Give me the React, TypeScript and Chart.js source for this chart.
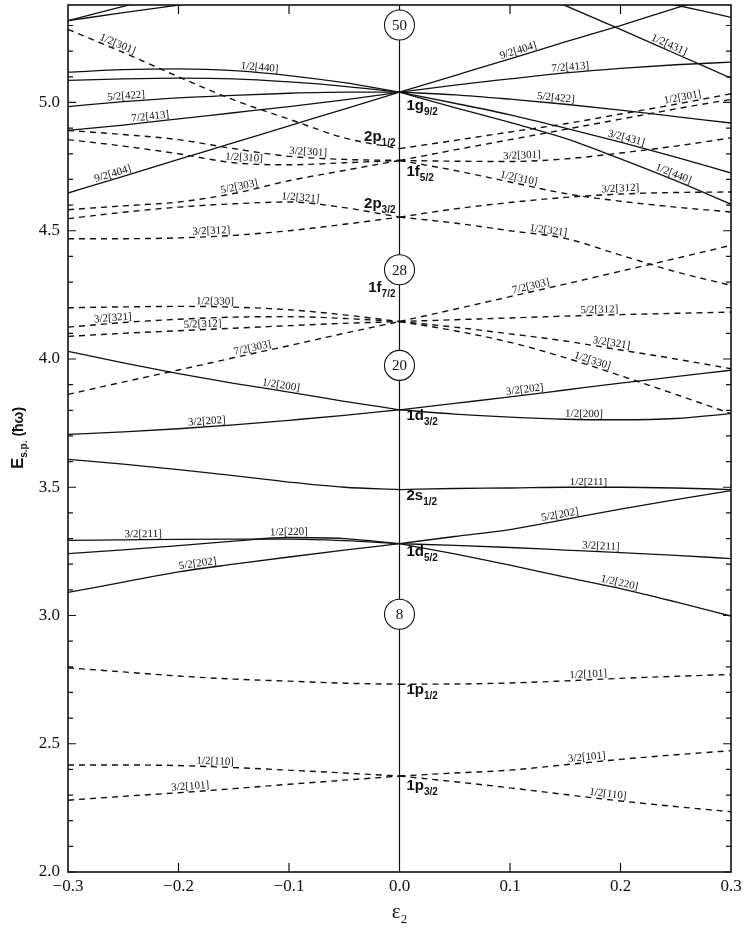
import React, { useEffect, useRef } from 'react';
import { Chart, registerables } from 'chart.js';

Chart.register(...registerables);

// ---------- deformation grids ----------
const EPS_OBL = [-0.3, -0.25, -0.2, -0.15, -0.1, -0.05, 0];
const EPS_PRO = [0, 0.05, 0.1, 0.15, 0.2, 0.25, 0.3];
const EPS_431 = [0.1, 0.15, 0.2, 0.25, 0.3];
const EPS_TOP_R = [0.2, 0.25, 0.3];
const EPS_TOP_L1 = [-0.3, -0.25, -0.2];
const EPS_TOP_L2 = [-0.3, -0.25, -0.2, -0.15];

// ---------- N = 1 (dashed) ----------
const h101_obl = [2.796, 2.78, 2.764, 2.752, 2.744, 2.736, 2.732];
const h101_pro = [2.732, 2.733, 2.737, 2.745, 2.755, 2.763, 2.77];
const h110_obl = [2.417, 2.417, 2.415, 2.407, 2.397, 2.386, 2.374];
const h110_pro = [2.374, 2.352, 2.328, 2.302, 2.277, 2.255, 2.235];
const t101_obl = [2.28, 2.295, 2.309, 2.325, 2.342, 2.358, 2.374];
const t101_pro = [2.374, 2.386, 2.397, 2.418, 2.439, 2.457, 2.473];

// ---------- N = 2 (solid) ----------
const f202_obl = [3.09, 3.13, 3.17, 3.2, 3.228, 3.255, 3.28];
const f202_pro = [3.28, 3.308, 3.335, 3.375, 3.415, 3.452, 3.487];
const t211_obl = [3.293, 3.295, 3.297, 3.298, 3.298, 3.292, 3.28];
const t211_pro = [3.28, 3.273, 3.265, 3.255, 3.245, 3.234, 3.222];
const h220_obl = [3.241, 3.256, 3.272, 3.29, 3.304, 3.3, 3.28];
const h220_pro = [3.28, 3.24, 3.196, 3.15, 3.105, 3.053, 2.998];
const s2_obl = [3.609, 3.59, 3.569, 3.545, 3.52, 3.5, 3.491];
const h211_pro = [3.491, 3.495, 3.497, 3.5, 3.5, 3.497, 3.491];
const h200_obl = [4.03, 3.985, 3.943, 3.905, 3.871, 3.835, 3.802];
const h200_pro = [3.802, 3.785, 3.773, 3.765, 3.763, 3.768, 3.787];
const t202_obl = [3.706, 3.716, 3.728, 3.743, 3.761, 3.78, 3.802];
const t202_pro = [3.802, 3.827, 3.852, 3.879, 3.906, 3.931, 3.956];

// ---------- N = 3 (dashed) ----------
const h330_obl = [4.2, 4.203, 4.205, 4.202, 4.192, 4.172, 4.146];
const h330_pro = [4.146, 4.11, 4.065, 4.005, 3.935, 3.862, 3.787];
const t321_obl = [4.124, 4.142, 4.155, 4.163, 4.165, 4.158, 4.146];
const t321_pro = [4.146, 4.124, 4.098, 4.07, 4.035, 4.0, 3.962];
const f312_obl = [4.088, 4.1, 4.11, 4.12, 4.13, 4.139, 4.146];
const f312_pro = [4.146, 4.153, 4.16, 4.167, 4.173, 4.178, 4.183];
const s303_obl = [3.862, 3.91, 3.957, 4.005, 4.052, 4.1, 4.146];
const s303_pro = [4.146, 4.194, 4.243, 4.292, 4.342, 4.392, 4.443];
const t312_obl = [4.469, 4.469, 4.472, 4.482, 4.5, 4.525, 4.553];
const t312_pro = [4.553, 4.585, 4.61, 4.63, 4.643, 4.649, 4.651];
const h321_obl = [4.547, 4.572, 4.592, 4.605, 4.612, 4.59, 4.553];
const h321_pro = [4.553, 4.53, 4.5, 4.47, 4.405, 4.34, 4.287];
const f303_obl = [4.582, 4.597, 4.612, 4.645, 4.695, 4.735, 4.774];
const f303_pro = [4.774, 4.815, 4.855, 4.895, 4.935, 4.975, 5.012];
const t301_obl = [4.891, 4.875, 4.855, 4.82, 4.79, 4.778, 4.774];
const t301_pro = [4.774, 4.771, 4.77, 4.78, 4.803, 4.83, 4.862];
const h310_obl = [4.855, 4.83, 4.8, 4.765, 4.757, 4.765, 4.774];
const h310_pro = [4.774, 4.735, 4.69, 4.645, 4.615, 4.592, 4.573];
const h301_obl = [5.285, 5.195, 5.1, 5.01, 4.935, 4.862, 4.82];
const h301_pro = [4.82, 4.852, 4.885, 4.917, 4.955, 4.993, 5.034];

// ---------- N = 4 (solid) ----------
const n404_obl = [4.647, 4.712, 4.778, 4.843, 4.909, 4.974, 5.04];
const n404_pro = [5.04, 5.105, 5.17, 5.236, 5.3, 5.368, 5.433];
const s413_obl = [4.891, 4.912, 4.936, 4.96, 4.984, 5.01, 5.04];
const s413_pro = [5.04, 5.068, 5.092, 5.115, 5.133, 5.147, 5.157];
const f422_obl = [4.984, 5.003, 5.018, 5.028, 5.036, 5.04, 5.04];
const f422_pro = [5.04, 5.03, 5.013, 4.993, 4.97, 4.945, 4.92];
const t431_obl = [5.086, 5.092, 5.095, 5.092, 5.08, 5.063, 5.04];
const t431_pro = [5.04, 4.997, 4.952, 4.9, 4.845, 4.787, 4.725];
const h440_obl = [5.118, 5.128, 5.131, 5.124, 5.105, 5.077, 5.04];
const h440_pro = [5.04, 4.98, 4.922, 4.86, 4.78, 4.695, 4.603];
const h431_pro = [5.47, 5.378, 5.285, 5.19, 5.095];
const top_r = [5.43, 5.38, 5.332];
const top_l1 = [5.319, 5.375, 5.43];
const top_l2 = [5.319, 5.35, 5.38, 5.41];

type Series = { key: string; xs: number[]; ys: number[]; dashed: boolean };

const SERIES: Series[] = [
  { key: 'h101o', xs: EPS_OBL, ys: h101_obl, dashed: true },
  { key: 'h101p', xs: EPS_PRO, ys: h101_pro, dashed: true },
  { key: 'h110o', xs: EPS_OBL, ys: h110_obl, dashed: true },
  { key: 'h110p', xs: EPS_PRO, ys: h110_pro, dashed: true },
  { key: 't101o', xs: EPS_OBL, ys: t101_obl, dashed: true },
  { key: 't101p', xs: EPS_PRO, ys: t101_pro, dashed: true },
  { key: 'f202o', xs: EPS_OBL, ys: f202_obl, dashed: false },
  { key: 'f202p', xs: EPS_PRO, ys: f202_pro, dashed: false },
  { key: 't211o', xs: EPS_OBL, ys: t211_obl, dashed: false },
  { key: 't211p', xs: EPS_PRO, ys: t211_pro, dashed: false },
  { key: 'h220o', xs: EPS_OBL, ys: h220_obl, dashed: false },
  { key: 'h220p', xs: EPS_PRO, ys: h220_pro, dashed: false },
  { key: 's2o', xs: EPS_OBL, ys: s2_obl, dashed: false },
  { key: 'h211p', xs: EPS_PRO, ys: h211_pro, dashed: false },
  { key: 'h200o', xs: EPS_OBL, ys: h200_obl, dashed: false },
  { key: 'h200p', xs: EPS_PRO, ys: h200_pro, dashed: false },
  { key: 't202o', xs: EPS_OBL, ys: t202_obl, dashed: false },
  { key: 't202p', xs: EPS_PRO, ys: t202_pro, dashed: false },
  { key: 'h330o', xs: EPS_OBL, ys: h330_obl, dashed: true },
  { key: 'h330p', xs: EPS_PRO, ys: h330_pro, dashed: true },
  { key: 't321o', xs: EPS_OBL, ys: t321_obl, dashed: true },
  { key: 't321p', xs: EPS_PRO, ys: t321_pro, dashed: true },
  { key: 'f312o', xs: EPS_OBL, ys: f312_obl, dashed: true },
  { key: 'f312p', xs: EPS_PRO, ys: f312_pro, dashed: true },
  { key: 's303o', xs: EPS_OBL, ys: s303_obl, dashed: true },
  { key: 's303p', xs: EPS_PRO, ys: s303_pro, dashed: true },
  { key: 't312o', xs: EPS_OBL, ys: t312_obl, dashed: true },
  { key: 't312p', xs: EPS_PRO, ys: t312_pro, dashed: true },
  { key: 'h321o', xs: EPS_OBL, ys: h321_obl, dashed: true },
  { key: 'h321p', xs: EPS_PRO, ys: h321_pro, dashed: true },
  { key: 'f303o', xs: EPS_OBL, ys: f303_obl, dashed: true },
  { key: 'f303p', xs: EPS_PRO, ys: f303_pro, dashed: true },
  { key: 't301o', xs: EPS_OBL, ys: t301_obl, dashed: true },
  { key: 't301p', xs: EPS_PRO, ys: t301_pro, dashed: true },
  { key: 'h310o', xs: EPS_OBL, ys: h310_obl, dashed: true },
  { key: 'h310p', xs: EPS_PRO, ys: h310_pro, dashed: true },
  { key: 'h301o', xs: EPS_OBL, ys: h301_obl, dashed: true },
  { key: 'h301p', xs: EPS_PRO, ys: h301_pro, dashed: true },
  { key: 'n404o', xs: EPS_OBL, ys: n404_obl, dashed: false },
  { key: 'n404p', xs: EPS_PRO, ys: n404_pro, dashed: false },
  { key: 's413o', xs: EPS_OBL, ys: s413_obl, dashed: false },
  { key: 's413p', xs: EPS_PRO, ys: s413_pro, dashed: false },
  { key: 'f422o', xs: EPS_OBL, ys: f422_obl, dashed: false },
  { key: 'f422p', xs: EPS_PRO, ys: f422_pro, dashed: false },
  { key: 't431o', xs: EPS_OBL, ys: t431_obl, dashed: false },
  { key: 't431p', xs: EPS_PRO, ys: t431_pro, dashed: false },
  { key: 'h440o', xs: EPS_OBL, ys: h440_obl, dashed: false },
  { key: 'h440p', xs: EPS_PRO, ys: h440_pro, dashed: false },
  { key: 'h431p', xs: EPS_431, ys: h431_pro, dashed: false },
  { key: 'topR', xs: EPS_TOP_R, ys: top_r, dashed: false },
  { key: 'topL1', xs: EPS_TOP_L1, ys: top_l1, dashed: false },
  { key: 'topL2', xs: EPS_TOP_L2, ys: top_l2, dashed: false },
];

// orbital labels: [text, series key, epsilon of label centre]
const ORBITAL_LABELS: [string, string, number][] = [
  ['1/2[301]', 'h301o', -0.257],
  ['1/2[440]', 'h440o', -0.127],
  ['5/2[422]', 'f422o', -0.247],
  ['7/2[413]', 's413o', -0.225],
  ['9/2[404]', 'n404o', -0.258],
  ['3/2[301]', 't301o', -0.083],
  ['1/2[310]', 'h310o', -0.141],
  ['5/2[303]', 'f303o', -0.144],
  ['1/2[321]', 'h321o', -0.09],
  ['3/2[312]', 't312o', -0.17],
  ['1/2[330]', 'h330o', -0.167],
  ['3/2[321]', 't321o', -0.259],
  ['5/2[312]', 'f312o', -0.178],
  ['7/2[303]', 's303o', -0.132],
  ['1/2[200]', 'h200o', -0.108],
  ['3/2[202]', 't202o', -0.174],
  ['3/2[211]', 't211o', -0.232],
  ['1/2[220]', 'h220o', -0.1],
  ['5/2[202]', 'f202o', -0.182],
  ['1/2[110]', 'h110o', -0.167],
  ['3/2[101]', 't101o', -0.189],
  ['9/2[404]', 'n404p', 0.109],
  ['7/2[413]', 's413p', 0.155],
  ['5/2[422]', 'f422p', 0.141],
  ['1/2[301]', 'h301p', 0.257],
  ['3/2[431]', 't431p', 0.204],
  ['1/2[440]', 'h440p', 0.246],
  ['3/2[301]', 't301p', 0.111],
  ['1/2[310]', 'h310p', 0.107],
  ['3/2[312]', 't312p', 0.2],
  ['1/2[321]', 'h321p', 0.134],
  ['1/2[431]', 'h431p', 0.242],
  ['7/2[303]', 's303p', 0.12],
  ['5/2[312]', 'f312p', 0.181],
  ['3/2[321]', 't321p', 0.191],
  ['1/2[330]', 'h330p', 0.173],
  ['3/2[202]', 't202p', 0.114],
  ['1/2[200]', 'h200p', 0.167],
  ['1/2[211]', 'h211p', 0.171],
  ['5/2[202]', 'f202p', 0.146],
  ['3/2[211]', 't211p', 0.182],
  ['1/2[220]', 'h220p', 0.198],
  ['1/2[101]', 'h101p', 0.171],
  ['3/2[101]', 't101p', 0.17],
  ['1/2[110]', 'h110p', 0.188],
];

// spherical level labels: [main, subscript, energy, side]
const LEVEL_LABELS: [string, string, number, 'l' | 'r'][] = [
  ['1g', '9/2', 4.992, 'r'],
  ['2p', '1/2', 4.868, 'l'],
  ['1f', '5/2', 4.731, 'r'],
  ['2p', '3/2', 4.607, 'l'],
  ['1f', '7/2', 4.279, 'l'],
  ['1d', '3/2', 3.781, 'r'],
  ['2s', '1/2', 3.469, 'r'],
  ['1d', '5/2', 3.25, 'r'],
  ['1p', '1/2', 2.713, 'r'],
  ['1p', '3/2', 2.339, 'r'],
];

// magic numbers: [number, energy]
const MAGIC: [string, number][] = [
  ['50', 5.302],
  ['28', 4.348],
  ['20', 3.975],
  ['8', 3.005],
];

const SERIF = "'Liberation Serif', 'DejaVu Serif', serif";
const SANS = "'Liberation Sans', 'DejaVu Sans', sans-serif";
const INK = '#111';

function interp(xs: number[], ys: number[], x: number): number {
  if (x <= xs[0]) return ys[0];
  for (let i = 1; i < xs.length; i++) {
    if (x <= xs[i]) {
      const t = (x - xs[i - 1]) / (xs[i] - xs[i - 1]);
      return ys[i - 1] + t * (ys[i] - ys[i - 1]);
    }
  }
  return ys[ys.length - 1];
}

const decor = {
  id: 'decor',
  beforeDatasetsDraw(chart: any) {
    const { ctx, chartArea: a, scales } = chart;
    const x0 = scales.x.getPixelForValue(0);
    ctx.save();
    ctx.strokeStyle = INK;
    ctx.lineWidth = 1.2;
    ctx.beginPath();
    ctx.moveTo(x0, a.top);
    ctx.lineTo(x0, a.bottom);
    ctx.stroke();
    ctx.restore();
  },
  afterDatasetsDraw(chart: any) {
    const { ctx, chartArea: a, scales } = chart;
    const xs = scales.x;
    const ys = scales.y;
    const x0 = xs.getPixelForValue(0);
    ctx.save();

    // frame
    ctx.strokeStyle = INK;
    ctx.lineWidth = 1.6;
    ctx.strokeRect(a.left, a.top, a.right - a.left, a.bottom - a.top);

    // inward ticks
    ctx.lineWidth = 1.2;
    ctx.beginPath();
    ys.ticks.forEach((t: any) => {
      const v = t.value;
      const major = Math.abs(v * 2 - Math.round(v * 2)) < 1e-6;
      const len = major ? 8 : 5;
      const py = ys.getPixelForValue(v);
      ctx.moveTo(a.left, py);
      ctx.lineTo(a.left + len, py);
      ctx.moveTo(a.right, py);
      ctx.lineTo(a.right - len, py);
    });
    xs.ticks.forEach((t: any) => {
      const v = t.value;
      if (Math.abs(Math.abs(v) - 0.3) < 1e-6 || Math.abs(v) < 1e-6) return;
      const px = xs.getPixelForValue(v);
      ctx.moveTo(px, a.bottom);
      ctx.lineTo(px, a.bottom - 9);
      ctx.moveTo(px, a.top);
      ctx.lineTo(px, a.top + 9);
    });
    ctx.stroke();

    // orbital labels along the lines
    ctx.fillStyle = INK;
    ctx.font = `11px ${SERIF}`;
    ctx.textAlign = 'center';
    ctx.textBaseline = 'alphabetic';
    ORBITAL_LABELS.forEach(([text, key, eps]) => {
      const s = SERIES.find((q) => q.key === key);
      if (!s) return;
      const d = 0.015;
      const pxA = xs.getPixelForValue(eps - d);
      const pyA = ys.getPixelForValue(interp(s.xs, s.ys, eps - d));
      const pxB = xs.getPixelForValue(eps + d);
      const pyB = ys.getPixelForValue(interp(s.xs, s.ys, eps + d));
      const px = xs.getPixelForValue(eps);
      const py = ys.getPixelForValue(interp(s.xs, s.ys, eps));
      const ang = Math.atan2(pyB - pyA, pxB - pxA);
      ctx.save();
      ctx.translate(px, py);
      ctx.rotate(ang);
      ctx.fillText(text, 0, -2.5);
      ctx.restore();
    });

    // magic number circles
    MAGIC.forEach(([n, e]) => {
      const py = ys.getPixelForValue(e);
      ctx.beginPath();
      ctx.arc(x0, py, 15, 0, Math.PI * 2);
      ctx.fillStyle = '#fff';
      ctx.fill();
      ctx.lineWidth = 1.1;
      ctx.strokeStyle = INK;
      ctx.stroke();
      ctx.fillStyle = INK;
      ctx.font = `15px ${SERIF}`;
      ctx.textAlign = 'center';
      ctx.textBaseline = 'middle';
      ctx.fillText(n, x0, py + 1);
    });

    // spherical level labels
    LEVEL_LABELS.forEach(([main, sub, e, side]) => {
      const py = ys.getPixelForValue(e);
      ctx.fillStyle = INK;
      ctx.textAlign = 'left';
      ctx.textBaseline = 'alphabetic';
      ctx.font = `bold 15px ${SANS}`;
      const wMain = ctx.measureText(main).width;
      ctx.font = `bold 10px ${SANS}`;
      const wSub = ctx.measureText(sub).width;
      const start = side === 'r' ? x0 + 7 : x0 - 4 - wMain - wSub;
      ctx.font = `bold 15px ${SANS}`;
      ctx.fillText(main, start, py + 5);
      ctx.font = `bold 10px ${SANS}`;
      ctx.fillText(sub, start + wMain, py + 10);
    });

    ctx.restore();

    // axis titles
    ctx.save();
    ctx.fillStyle = INK;
    ctx.textBaseline = 'alphabetic';
    ctx.textAlign = 'left';
    ctx.font = `21px ${SERIF}`;
    const wEps = ctx.measureText('ε').width;
    ctx.font = `13px ${SERIF}`;
    const w2 = ctx.measureText('2').width;
    const xs0 = x0 - (wEps + w2) / 2;
    ctx.font = `21px ${SERIF}`;
    ctx.fillText('ε', xs0, 918);
    ctx.font = `13px ${SERIF}`;
    ctx.fillText('2', xs0 + wEps, 923);

    ctx.translate(23, 438);
    ctx.rotate(-Math.PI / 2);
    ctx.font = `bold 17px ${SANS}`;
    const wE = ctx.measureText('E').width;
    ctx.font = `bold 10px ${SANS}`;
    const wSp = ctx.measureText('s.p.').width;
    ctx.font = `bold 14px ${SANS}`;
    const wH = ctx.measureText(' (ħω)').width;
    let cx = -(wE + wSp + wH) / 2;
    ctx.font = `bold 17px ${SANS}`;
    ctx.fillText('E', cx, 0);
    cx += wE;
    ctx.font = `bold 10px ${SANS}`;
    ctx.fillText('s.p.', cx, 4);
    cx += wSp;
    ctx.font = `bold 14px ${SANS}`;
    ctx.fillText(' (ħω)', cx, 0);
    ctx.restore();
  },
};

export default function App() {
  const ref = useRef<HTMLCanvasElement | null>(null);

  useEffect(() => {
    if (!ref.current) return;
    const datasets = SERIES.map((s) => ({
      label: s.key,
      data: s.xs.map((x, i) => ({ x, y: s.ys[i] })),
      showLine: true,
      borderColor: INK,
      backgroundColor: INK,
      borderWidth: s.dashed ? 1.4 : 1.3,
      borderDash: s.dashed ? [6, 5] : [],
      pointRadius: 0,
      pointHoverRadius: 0,
      cubicInterpolationMode: 'monotone' as const,
      fill: false,
    }));

    const chart = new Chart(ref.current, {
      type: 'scatter',
      data: { datasets },
      options: {
        responsive: false,
        animation: false,
        devicePixelRatio: 1,
        events: [],
        layout: { padding: { left: 0, right: 16, top: 5, bottom: 0 } },
        elements: { line: { capBezierPoints: false } },
        plugins: {
          legend: { display: false },
          tooltip: { enabled: false },
          title: { display: false },
        },
        scales: {
          x: {
            type: 'linear',
            min: -0.3,
            max: 0.3,
            grid: { display: false, drawTicks: false },
            border: { display: false },
            ticks: {
              stepSize: 0.1,
              padding: 4,
              maxRotation: 0,
              autoSkip: false,
              color: INK,
              font: { family: SERIF, size: 17 },
              callback: (v: any) => {
                const n = Number(v);
                const s = Math.abs(n).toFixed(1);
                return n < -1e-9 ? '\u2212' + s : s;
              },
            },
            afterFit: (s: any) => {
              s.height = 59;
              s.paddingLeft = 0;
              s.paddingRight = 0;
            },
          },
          y: {
            type: 'linear',
            min: 2.0,
            max: 5.38,
            grid: { display: false, drawTicks: false },
            border: { display: false },
            ticks: {
              padding: 8,
              autoSkip: false,
              color: INK,
              font: { family: SERIF, size: 17 },
              callback: (v: any) => {
                const n = Number(v);
                return Math.abs(n * 2 - Math.round(n * 2)) < 1e-6 ? n.toFixed(1) : '';
              },
            },
            afterBuildTicks: (s: any) => {
              const t = [];
              for (let k = 20; k <= 53; k++) t.push({ value: k / 10 });
              s.ticks = t;
            },
            afterFit: (s: any) => {
              s.width = 68;
              s.paddingTop = 0;
              s.paddingBottom = 0;
            },
          },
        },
      },
      plugins: [decor],
    });
    return () => chart.destroy();
  }, []);

  return (
    <div style={{ position: 'absolute', left: 0, top: 0, width: 747, height: 931, background: '#fff' }}>
      <canvas ref={ref} width={747} height={931} style={{ display: 'block' }} />
    </div>
  );
}
